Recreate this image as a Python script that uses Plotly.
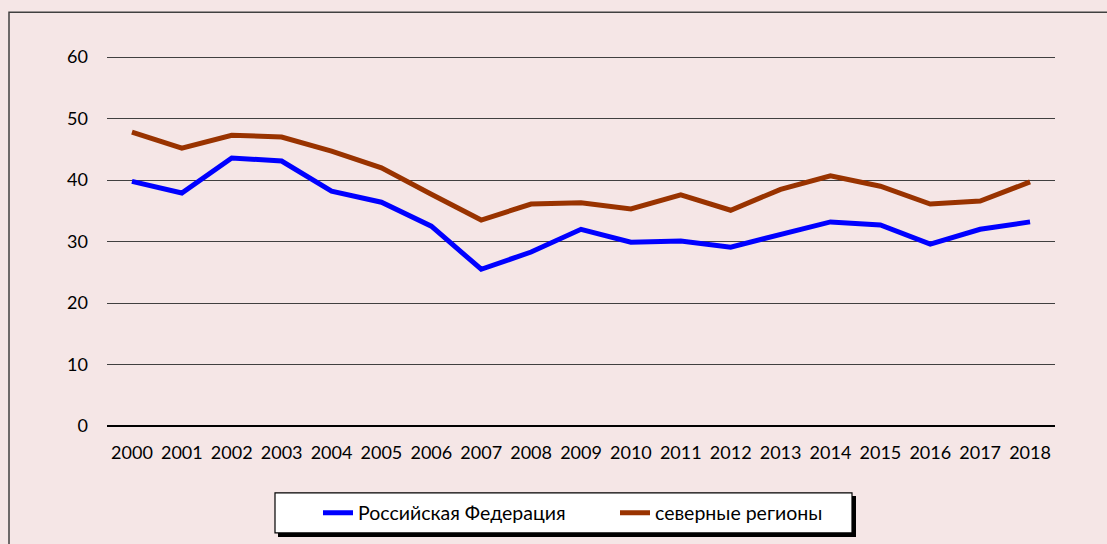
import plotly.graph_objects as go

# Data
years = [str(y) for y in range(2000, 2019)]
russia = [39.8, 37.9, 43.6, 43.1, 38.2, 36.4, 32.5, 25.5, 28.3, 32.0,
          29.9, 30.1, 29.1, 31.1, 33.2, 32.7, 29.6, 32.0, 33.2]
north = [47.8, 45.2, 47.3, 47.0, 44.7, 42.0, 37.7, 33.5, 36.1, 36.3,
         35.3, 37.6, 35.1, 38.5, 40.7, 39.0, 36.1, 36.6, 39.7]
y_ticks = [0, 10, 20, 30, 40, 50, 60]

W, H = 1107, 544
L, R = 107, 52
Y0_PX, Y60_PX = 426, 57          # pixel rows of the 0 and 60 gridlines
Y_TOP = 61.0                     # a little headroom so the 60 gridline shows
T = Y60_PX - (Y0_PX - Y60_PX) / 60 * (Y_TOP - 60)
B = H - Y0_PX
pw, ph = W - L - R, H - T - B


def px_x(x):
    return (x - L) / pw


def px_y(y):
    return (H - B - y) / ph


fig = go.Figure()
fig.add_trace(go.Scatter(
    x=years, y=russia, mode='lines', name='Российская Федерация',
    line=dict(color='#0000FF', width=5)
))
fig.add_trace(go.Scatter(
    x=years, y=north, mode='lines', name='северные регионы',
    line=dict(color='#993300', width=5)
))

# outer frame (runs off right / bottom edges like the source)
fig.add_shape(type='rect', xref='paper', yref='paper',
              x0=px_x(9), x1=px_x(W + 10), y0=px_y(H + 10), y1=px_y(12),
              line=dict(color='#404040', width=1.5), layer='below')
# legend box with shadow
fig.add_shape(type='rect', xref='paper', yref='paper',
              x0=px_x(278), x1=px_x(856), y0=px_y(537), y1=px_y(496),
              line=dict(width=0), fillcolor='#000000', layer='below')
fig.add_shape(type='rect', xref='paper', yref='paper',
              x0=px_x(275), x1=px_x(852), y0=px_y(533), y1=px_y(493),
              line=dict(color='#000000', width=1.2), fillcolor='#FFFFFF',
              layer='below')

fig.update_layout(
    width=W, height=H,
    margin=dict(l=L, r=R, t=T, b=B),
    paper_bgcolor='#F5E6E6', plot_bgcolor='#F5E6E6',
    font=dict(family='Lato, Liberation Sans, Arial, sans-serif', size=18, color='#000000'),
    showlegend=True,
    legend=dict(
        orientation='h', xanchor='left', yanchor='middle',
        x=px_x(318), y=px_y(513),
        bgcolor='rgba(0,0,0,0)', borderwidth=0,
        font=dict(size=19.5), entrywidth=252, entrywidthmode='pixels',
    ),
    xaxis=dict(
        type='category', range=[-0.5, 18.5], showgrid=False,
        showline=False, zeroline=False, ticks='', tickfont=dict(size=18),
        ticklabelstandoff=14,
    ),
    yaxis=dict(
        range=[0, Y_TOP], tickvals=y_ticks, showgrid=True,
        gridcolor='#404040', gridwidth=1, zeroline=True,
        zerolinecolor='#000000', zerolinewidth=1.5,
        showline=False, ticks='', ticklabelstandoff=18,
        tickfont=dict(size=18),
    ),
)

fig.write_html('out.html', config={'displayModeBar': False},
               post_script="document.body.style.margin='0';")
